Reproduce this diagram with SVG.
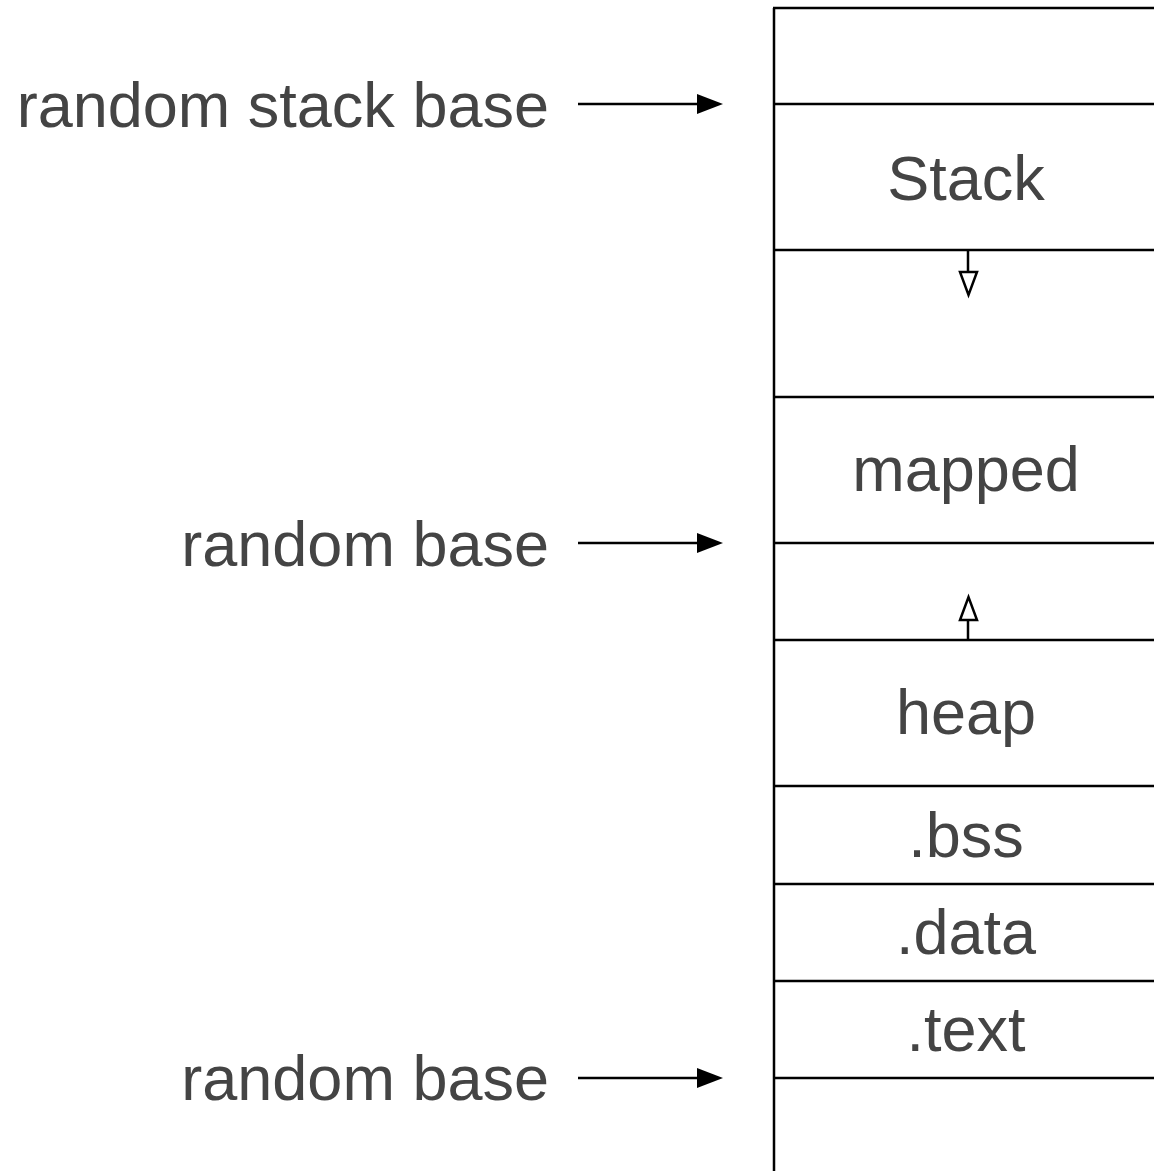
<svg xmlns="http://www.w3.org/2000/svg" width="1154" height="1171" viewBox="0 0 1154 1171">
<style>
.t{font-family:"Liberation Sans",Arial,sans-serif;font-size:63px;fill:#444}
.c{text-anchor:middle}
.r{text-anchor:end}
.ln{stroke:#000;stroke-width:2.5;fill:none}
.ah{fill:#000}
.oh{fill:#fff;stroke:#000;stroke-width:2.5}
</style>
<rect width="1154" height="1171" fill="#fff"/>
<g id="memory">
<line class="ln" x1="774" y1="8" x2="774" y2="1171"/>
<line class="ln" x1="773" y1="8" x2="1154" y2="8"/>
<line class="ln" x1="774" y1="104" x2="1154" y2="104"/>
<line class="ln" x1="774" y1="250" x2="1154" y2="250"/>
<line class="ln" x1="774" y1="397" x2="1154" y2="397"/>
<line class="ln" x1="774" y1="543" x2="1154" y2="543"/>
<line class="ln" x1="774" y1="640" x2="1154" y2="640"/>
<line class="ln" x1="774" y1="786" x2="1154" y2="786"/>
<line class="ln" x1="774" y1="884" x2="1154" y2="884"/>
<line class="ln" x1="774" y1="981" x2="1154" y2="981"/>
<line class="ln" x1="774" y1="1078" x2="1154" y2="1078"/>
</g>
<g id="stack"><text class="t c" x="966" y="200">Stack</text></g>
<g id="mapped"><text class="t c" x="966" y="491">mapped</text></g>
<g id="heap"><text class="t c" x="966" y="734">heap</text></g>
<g id="bss"><text class="t c" x="966" y="857">.bss</text></g>
<g id="data"><text class="t c" x="966" y="954">.data</text></g>
<g id="textseg"><text class="t c" x="966" y="1051">.text</text></g>
<g id="label1"><text class="t r" x="549" y="127">random stack base</text></g>
<g id="label2"><text class="t r" x="549" y="566">random base</text></g>
<g id="label3"><text class="t r" x="549" y="1100">random base</text></g>
<g id="connectors">
<line class="ln" x1="578" y1="104" x2="700" y2="104"/>
<path class="ah" d="M697,94 L723,104 L697,114 Z"/>
<line class="ln" x1="578" y1="543" x2="700" y2="543"/>
<path class="ah" d="M697,533 L723,543 L697,553 Z"/>
<line class="ln" x1="578" y1="1078" x2="700" y2="1078"/>
<path class="ah" d="M697,1068 L723,1078 L697,1088 Z"/>
<line class="ln" x1="968" y1="250" x2="968" y2="272"/>
<path class="oh" d="M960,272 L977,272 L968.5,295 Z"/>
<line class="ln" x1="968" y1="640" x2="968" y2="620"/>
<path class="oh" d="M960,620 L977,620 L968.5,597 Z"/>
</g>
</svg>
